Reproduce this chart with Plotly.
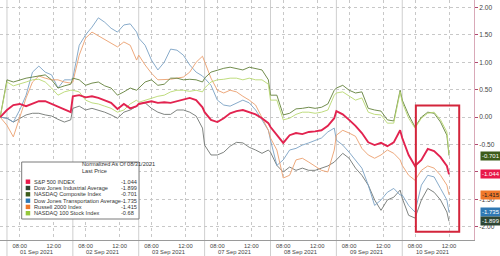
import plotly.graph_objects as go

# ---------------- data ----------------
DAYS = ["01 Sep 2021", "02 Sep 2021", "03 Sep 2021", "07 Sep 2021",
        "08 Sep 2021", "09 Sep 2021", "10 Sep 2021"]
TIMES = [6.5, 7.25, 8.0, 8.75, 9.5, 10.25, 11.0, 11.75, 12.5, 13.25, 14.0]
LAST_TIMES = [6.5, 7.25, 8.0, 8.75, 9.5, 10.25, 11.0, 11.75, 12.0]
PREV_CLOSE_T = 5.7
TICK_TIMES = [8.0, 12.0]
TICK_LABELS = ["08:00", "12:00"]
SESSION_START = 6.5
DAY_SPAN = 7.75

SPX = [0,
       0.13, 0.22, 0.24, 0.20, 0.24, 0.29, 0.29, 0.24, 0.18, 0.13, 0.09,
       0.38, 0.40, 0.36, 0.38, 0.35, 0.31, 0.26, 0.15, 0.24, 0.16, 0.20,
       0.24, 0.26, 0.29, 0.26, 0.27, 0.26, 0.29, 0.33, 0.35, 0.31, 0.18,
       0.09, -0.05, -0.09, -0.02, 0.07, 0.11, 0.13, 0.09, 0.05, -0.02, -0.11,
       -0.18, -0.33, -0.47, -0.33, -0.29, -0.31, -0.27, -0.26, -0.24, -0.16, -0.02,
       0.11, 0.05, -0.05, -0.16, -0.29, -0.46, -0.51, -0.47, -0.53, -0.46, -0.24,
       -0.38, -0.69, -0.89, -0.78, -0.58, -0.62, -0.73, -0.89, -1.044]
INDU = [0,
        -0.02, -0.09, -0.02, 0.04, 0.07, 0.07, 0.04, 0.02, -0.04, -0.09, -0.05,
        0.16, 0.20, 0.13, 0.16, 0.13, 0.09, 0.04, -0.02, 0.09, 0.13, 0.20,
        0.24, 0.26, 0.16, 0.09, 0.05, 0.05, 0.13, 0.13, 0.09, 0.02, -0.20,
        -0.51, -0.69, -0.69, -0.64, -0.53, -0.46, -0.47, -0.55, -0.60, -0.66, -0.60,
        -0.64, -0.88, -1.00, -0.91, -0.97, -0.93, -0.97, -0.97, -0.93, -0.89, -0.82,
        -0.78, -0.66, -0.75, -0.93, -1.06, -1.24, -1.51, -1.70, -1.51, -1.46, -1.33,
        -1.48, -1.79, -1.84, -1.51, -1.30, -1.37, -1.51, -1.73, -1.899]
CCMP = [0,
        0.68, 0.64, 0.68, 0.71, 0.73, 0.75, 0.77, 0.68, 0.53, 0.57, 0.60,
        0.71, 0.68, 0.58, 0.62, 0.64, 0.57, 0.53, 0.40, 0.46, 0.53, 0.49,
        0.53, 0.64, 0.68, 0.58, 0.60, 0.71, 0.71, 0.68, 0.69, 0.68, 0.64,
        0.71, 0.82, 0.86, 0.89, 0.91, 0.89, 0.86, 0.91, 0.89, 0.86, 0.68,
        0.40, 0.40, 0.04, 0.07, 0.15, 0.16, 0.18, 0.16, 0.18, 0.24, 0.49,
        0.53, 0.58, 0.49, 0.44, 0.46, 0.16, 0.13, 0.11, -0.05, -0.07, 0.49,
        0.31, 0.04, -0.18, 0.00, 0.09, 0.07, -0.09, -0.33, -0.701]
TRAN = [0,
        -0.02, -0.09, 0.13, 0.40, 0.82, 0.93, 0.82, 0.77, 0.53, 0.68, 0.68,
        0.71, 1.31, 1.50, 1.64, 1.81, 1.73, 1.62, 1.55, 1.68, 1.70, 1.55,
        1.44, 1.31, 1.04, 0.86, 1.00, 1.24, 1.22, 1.13, 0.95, 0.82, 0.75,
        0.71, 0.58, 0.31, 0.22, 0.20, 0.26, 0.31, 0.26, 0.13, -0.05, -0.24,
        -0.42, -0.88, -0.78, -0.60, -0.57, -0.51, -0.47, -0.42, -0.38, -0.27, -0.20,
        -0.42, -0.51, -0.64, -0.78, -0.93, -1.24, -1.61, -1.51, -1.37, -1.30, -1.42,
        -1.42, -1.61, -1.73, -1.24, -1.06, -1.09, -1.30, -1.51, -1.735]
RTY = [0,
       -0.15, -0.36, -0.02, 0.35, 0.64, 0.75, 0.71, 0.68, 0.68, 0.64, 0.62,
       0.64, 1.13, 1.44, 1.55, 1.48, 1.41, 1.35, 1.28, 1.37, 1.31, 1.04,
       1.13, 0.95, 0.80, 0.68, 0.68, 0.69, 0.71, 0.73, 0.82, 1.00, 1.11,
       1.00, 0.71, 0.49, 0.44, 0.49, 0.46, 0.38, 0.31, 0.22, -0.02, -0.24,
       -0.38, -0.60, -1.11, -1.06, -0.78, -0.75, -0.82, -0.89, -0.97, -1.00, -0.60,
       -0.33, -0.24, -0.29, -0.35, -0.57, -0.69, -0.75, -0.69, -0.60, -0.66, -0.78,
       -0.88, -1.06, -1.15, -0.97, -0.89, -0.93, -1.06, -1.24, -1.415]
NDX = [0,
       0.64, 0.57, 0.60, 0.64, 0.68, 0.69, 0.64, 0.53, 0.40, 0.46, 0.49,
       0.49, 0.46, 0.31, 0.26, 0.24, 0.20, 0.16, 0.09, 0.13, 0.24, 0.31,
       0.27, 0.31, 0.35, 0.38, 0.40, 0.46, 0.49, 0.49, 0.47, 0.49, 0.46,
       0.53, 0.64, 0.68, 0.69, 0.71, 0.71, 0.68, 0.71, 0.68, 0.68, 0.60,
       0.31, 0.31, -0.05, -0.02, 0.05, 0.09, 0.09, 0.07, 0.09, 0.13, 0.40,
       0.44, 0.46, 0.38, 0.31, 0.35, 0.09, 0.05, 0.04, -0.11, -0.11, 0.46,
       0.27, -0.02, -0.20, -0.02, 0.07, 0.09, -0.05, -0.27, -0.68]

SERIES_NAMES = ["S&P 500 INDEX", "Dow Jones Industrial Average", "NASDAQ Composite Index",
                "Dow Jones Transportation Average", "Russell 2000 Index", "NASDAQ 100 Stock Index"]
SERIES_VALUES = [SPX, INDU, CCMP, TRAN, RTY, NDX]
LAST_LABELS = ["-1.044", "-1.899", "-0.701", "-1.735", "-1.415", "-0.68"]
COLORS = ["#e2234f", "#707572", "#62803a", "#7aa2c4", "#eb9f6e", "#b8d870"]
SWATCH = ["#e8194a", "#2e4634", "#3d5c1a", "#2f78b4", "#f0782a", "#96c83c"]
TAG_ORDER = [2, 0, 4, 3, 1]          # tags shown on the right axis
TAG_TEXT_COL = ["white", "white", "white", "white", "#222222", "white"]

HIGHLIGHT_DAY = 6
HIGHLIGHT_T = [8.1, 13.2]
HIGHLIGHT_V = [-2.09, 0.21]

Y_TICKS = [-2.0, -1.5, -1.0, -0.5, 0.0, 0.5, 1.0, 1.5, 2.0]
Y_HIDDEN = [-1.0]                    # covered by the value tag in the original
Y_RANGE = [-2.24, 2.135]


# ---------------- helpers ----------------
def xpos(d, t):
    return d * DAY_SPAN + (t - SESSION_START)


X = [xpos(0, PREV_CLOSE_T)]
for d in range(len(DAYS) - 1):
    X += [xpos(d, t) for t in TIMES]
X += [xpos(len(DAYS) - 1, t) for t in LAST_TIMES]

X_RANGE = [X[0] - 0.02, len(DAYS) * DAY_SPAN + 0.69]

W, H = 500, 256
ML, MR, MT, MB = 0, 26, 0, 16
PW, PH = W - ML - MR, H - MT - MB
FONT = "Liberation Sans, Arial, sans-serif"


def px(xp):
    return xp / PW


def py(yp):
    return 1 - yp / PH


fig = go.Figure()

draw_order = [1, 3, 4, 2, 5, 0]
for i in draw_order:
    fig.add_trace(go.Scatter(
        x=X, y=SERIES_VALUES[i], mode="lines", name=SERIES_NAMES[i],
        line=dict(color=COLORS[i], width=1.9 if i == 0 else 0.9),
        showlegend=False, hoverinfo="skip"))

# tag pointers
for i in TAG_ORDER:
    fig.add_trace(go.Scatter(
        x=[X_RANGE[1] + 0.62], y=[SERIES_VALUES[i][-1]], mode="markers",
        marker=dict(symbol="triangle-left", size=6, color=SWATCH[i]),
        cliponaxis=False, showlegend=False, hoverinfo="skip"))

shapes = []
# day separators
for d in range(len(DAYS)):
    xv = xpos(d, SESSION_START)
    shapes.append(dict(type="line", xref="x", yref="paper", x0=xv, x1=xv,
                       y0=-MB / PH, y1=1, line=dict(color="#cfcfcf", width=1), layer="below"))
# highlight box
shapes.append(dict(type="rect", xref="x", yref="y",
                   x0=xpos(HIGHLIGHT_DAY, HIGHLIGHT_T[0]), x1=xpos(HIGHLIGHT_DAY, HIGHLIGHT_T[1]),
                   y0=HIGHLIGHT_V[0], y1=HIGHLIGHT_V[1],
                   line=dict(color="#d3253b", width=2), layer="above"))
# legend box
shapes.append(dict(type="rect", xref="paper", yref="paper",
                   x0=px(21.7), x1=px(139), y0=py(219), y1=py(162),
                   fillcolor="white", line=dict(color="#7a7a7a", width=1), layer="above"))

annotations = []
# day labels
for d, lab in enumerate(DAYS):
    annotations.append(dict(x=xpos(d, 10.0), y=py(251.5), xref="x", yref="paper",
                            text=lab, showarrow=False, xanchor="center", yanchor="middle",
                            font=dict(family=FONT, size=5.8, color="#444444")))
# legend text
annotations.append(dict(x=px(80), y=py(169), xref="paper", yref="paper",
                        text="Normalized As Of 08/31/2021", showarrow=False,
                        font=dict(family=FONT, size=5.6, color="#333333")))
annotations.append(dict(x=px(80), y=py(175.5), xref="paper", yref="paper",
                        text="Last Price", showarrow=False,
                        font=dict(family=FONT, size=5.6, color="#333333")))
ROW_Y = [181.7, 188, 194.3, 200.7, 206.9, 213.2]
for i, ry in enumerate(ROW_Y):
    shapes.append(dict(type="rect", xref="paper", yref="paper",
                       x0=px(25.7), x1=px(30.2), y0=py(ry + 2.2), y1=py(ry - 2.2),
                       fillcolor=SWATCH[i], line=dict(width=0), layer="above"))
    annotations.append(dict(x=px(32.3), y=py(ry), xref="paper", yref="paper",
                            text=SERIES_NAMES[i], showarrow=False, xanchor="left", yanchor="middle",
                            font=dict(family=FONT, size=5.6, color="#333333")))
    annotations.append(dict(x=px(119), y=py(ry), xref="paper", yref="paper",
                            text=LAST_LABELS[i], showarrow=False, xanchor="left", yanchor="middle",
                            font=dict(family=FONT, size=5.6, color="#333333")))
# right-side value tags
for i in TAG_ORDER:
    annotations.append(dict(x=px(480), y=SERIES_VALUES[i][-1], xref="paper", yref="y",
                            text=LAST_LABELS[i], showarrow=False, xanchor="left", yanchor="middle",
                            bgcolor=SWATCH[i], borderpad=1,
                            font=dict(family=FONT, size=6, color=TAG_TEXT_COL[i])))

tickvals, ticktext = [], []
for d in range(len(DAYS)):
    for t, lab in zip(TICK_TIMES, TICK_LABELS):
        tickvals.append(xpos(d, t))
        ticktext.append(lab)

fig.update_layout(
    width=W, height=H, margin=dict(l=ML, r=MR, t=MT, b=MB),
    paper_bgcolor="white", plot_bgcolor="white",
    shapes=shapes, annotations=annotations,
    xaxis=dict(range=X_RANGE, tickvals=tickvals, ticktext=ticktext,
               showgrid=True, gridcolor="#c8c8c8", griddash="dot", gridwidth=1,
               showline=True, linecolor="#9a9a9a", linewidth=1, ticks="",
               tickfont=dict(family=FONT, size=5.8, color="#444444"),
               zeroline=False, fixedrange=True),
    yaxis=dict(range=Y_RANGE, side="right", tickvals=Y_TICKS,
               ticktext=["" if v in Y_HIDDEN else f"{v:.2f}" for v in Y_TICKS],
               showgrid=True, gridcolor="#c8c8c8", griddash="dot", gridwidth=1,
               showline=True, linecolor="#d9a9b8", linewidth=1,
               ticks="outside", ticklen=3, tickcolor="#b04a70",
               tickfont=dict(family=FONT, size=6.6, color="#444444"),
               zeroline=False, fixedrange=True),
)

fig.write_html("out.html")
